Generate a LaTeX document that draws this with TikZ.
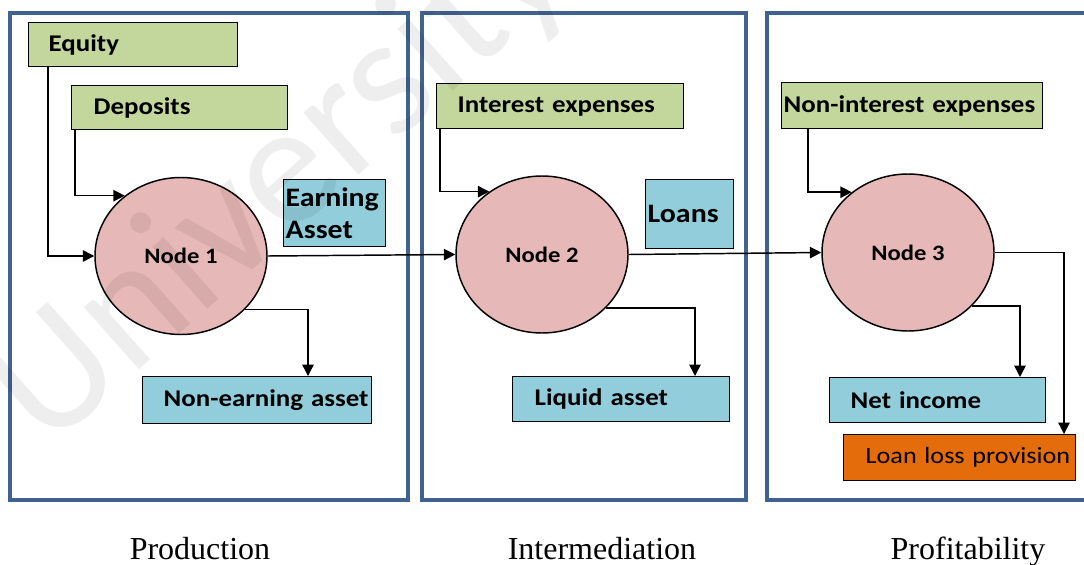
\documentclass[tikz,border=0pt]{standalone}
\usepackage{fontspec}
\setmainfont{Liberation Serif}
\newfontfamily\boxfont[FakeStretch=1.12]{Carlito}
\newfontfamily\wmfont{Carlito}
\usetikzlibrary{arrows.meta,calc,shapes.geometric}

\definecolor{panelblue}{HTML}{41628F}
\definecolor{boxgreen}{HTML}{C3D69B}
\definecolor{boxblue}{HTML}{92CDDC}
\definecolor{boxorange}{HTML}{E46C0A}
\definecolor{hubpink}{HTML}{E6B8B7}

\tikzset{
  panel/.style={draw=panelblue, line width=3pt},
  box/.style={draw=black, line width=1.1pt, anchor=north west, align=left,
    inner ysep=0pt, font=\boxfont\bfseries\fontsize{18}{21}\selectfont},
  gbox/.style={box, fill=boxgreen},
  bbox/.style={box, fill=boxblue},
  obox/.style={box, fill=boxorange, font=\boxfont\fontsize{17.5}{21}\selectfont},
  bigtext/.style={font=\boxfont\bfseries\fontsize{20}{24.5}\selectfont},
  hub/.style={ellipse, draw=black, line width=1.1pt, fill=hubpink, inner sep=0pt,
    minimum width=129pt, minimum height=117.75pt,
    font=\boxfont\bfseries\fontsize{16.5}{19}\selectfont},
  flow/.style={draw=black, line width=1.1pt, -{Triangle[length=8.5pt,width=8.5pt]}},
  stage/.style={font=\fontsize{24}{28}\selectfont, anchor=base},
}

\begin{document}
\begin{tikzpicture}[x=0.75pt, y=-0.75pt]
\useasboundingbox (0,0) rectangle (1084,564);
\clip (0,0) rectangle (1084,564);

% stage frames
\draw[panel] (9.5,12.5) rectangle (407.5,499.5);
\draw[panel] (422,12.5) rectangle (746,499.5);
\draw[panel] (767,12.5) rectangle (1110,499.5);

% production stage
\node[gbox, minimum height=33pt, text width=126.75pt, inner xsep=15pt] (eq) at (28,22) {Equity};
\node[gbox, minimum height=33pt, text width=129pt, inner xsep=16.5pt] (dep) at (71,85) {Deposits};
\node[bbox, bigtext, minimum height=50.25pt, text width=73.5pt, inner xsep=1.5pt] (ea) at (283,179) {Earning\\Asset};
\node[hub] (n1) at (181,256) {Node 1};
\node[bbox, minimum height=35.25pt, text width=140.25pt, inner xsep=15.75pt] (ne) at (142,376) {\mbox{Non-earning asset}};

% intermediation stage
\node[gbox, minimum height=33.75pt, text width=153.75pt, inner xsep=15.75pt] (ie) at (436,83) {\mbox{Interest expenses}};
\node[bbox, bigtext, minimum height=51.75pt, text width=63pt, inner xsep=1.5pt] (lo) at (645,179) {Loans};
\node[hub] (n2) at (542,254.5) {Node 2};
\node[bbox, minimum height=33.75pt, text width=129.75pt, inner xsep=16.5pt] (la) at (512,376) {\mbox{Liquid asset}};

% profitability stage
\node[gbox, minimum height=34.5pt, text width=192.75pt, inner xsep=1.5pt] (nie) at (781,82) {\mbox{Non-interest expenses}};
\node[hub] (n3) at (908,252.5) {Node 3};
\node[bbox, minimum height=33.75pt, text width=130.5pt, inner xsep=15.75pt] (ni) at (829,377) {\mbox{Net income}};
\node[obox, minimum height=34.5pt, text width=141pt, inner xsep=16.5pt] (llp) at (843,434) {\mbox{Loan loss provision}};

% flows
\draw[flow] ($(eq.south west)+(20,0)$) |- (n1.west);
\draw[flow] ($(dep.south west)+(4,0)$) |- (n1.133);
\draw[flow] (n1.east) -- (n2.west);
\draw[flow] (n1.-40) -| ($(ne.north west)+(166,0)$);

\draw[flow] ($(ie.south west)+(4,0)$) |- (n2.130);
\draw[flow] (n2.east) -- (n3.west);
\draw[flow] (n2.-40) -| ($(la.north west)+(183,0)$);

\draw[flow] ($(nie.south west)+(27,0)$) |- (n3.133);
\draw[flow] (n3.-40) -| ($(ni.north west)+(191,0)$);
\draw[flow] (n3.east) -| ($(llp.north west)+(221,0)$);

% stage captions
\node[stage] (cap1) at (200,559) {Production};
\node[stage] (cap2) at (602,559) {Intermediation};
\node[stage] (cap3) at (968,559) {Profitability};

% watermark
\node[rotate=41.6, text=black, text opacity=0.065,
      font=\wmfont\fontsize{130}{130}\selectfont] (wm) at (281,183) {University};
\end{tikzpicture}
\end{document}
